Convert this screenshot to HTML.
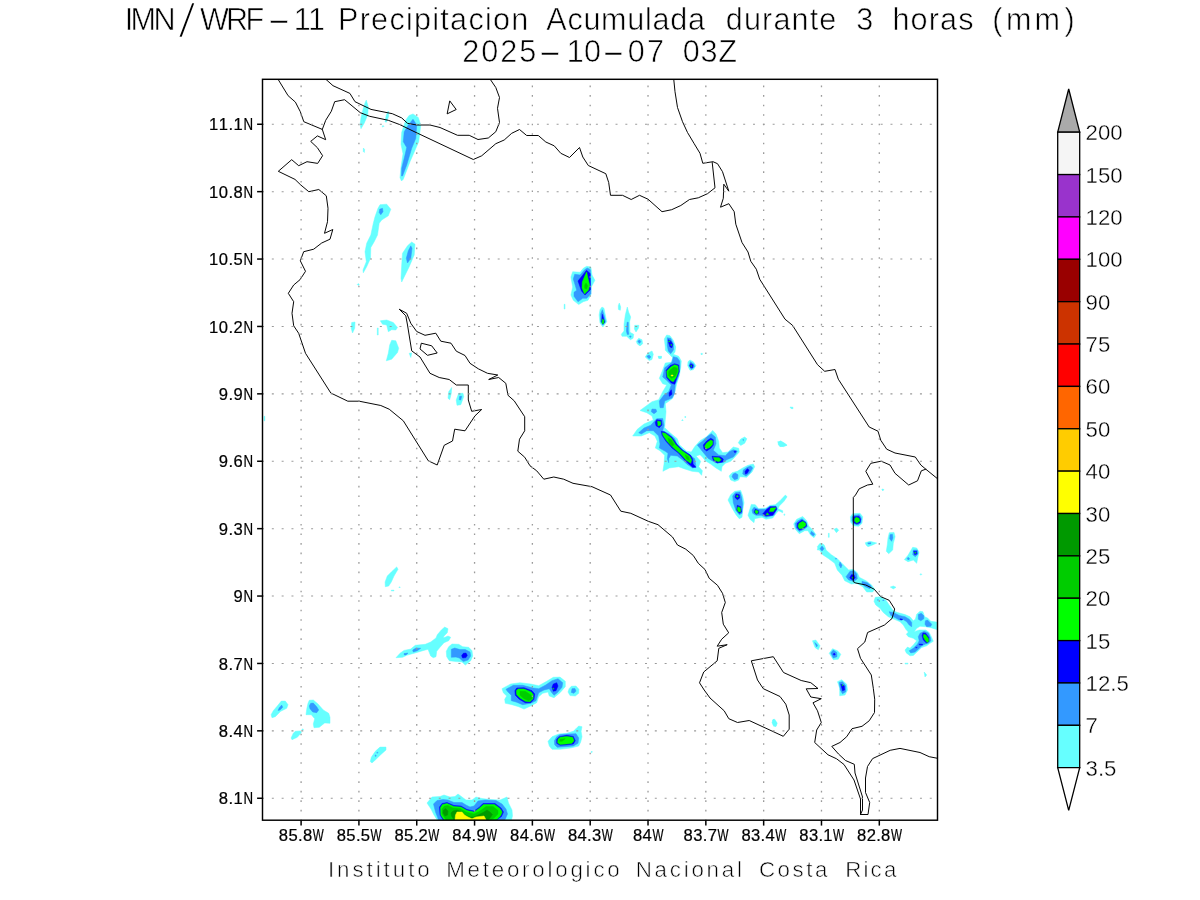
<!DOCTYPE html>
<html lang="es"><head><meta charset="utf-8">
<title>IMN/WRF-11 Precipitacion Acumulada durante 3 horas (mm)</title>
<style>
html,body{margin:0;padding:0;background:#fff;}
body{width:1200px;height:900px;overflow:hidden;}
svg{display:block;will-change:transform;}
text{font-family:"Liberation Sans",sans-serif;fill:#000;}
.ttl{font-size:30.6px;stroke:#fff;stroke-width:0.6px;}
.ft{font-size:22.3px;fill:#000;stroke:#fff;stroke-width:0.6px;}
.ax{font-size:16.6px;stroke:#000;stroke-width:0.22px;}
.cb{font-size:22.2px;stroke:#fff;stroke-width:0.35px;}
.coast{fill:none;stroke:#000;stroke-width:0.98;stroke-linejoin:round;stroke-linecap:round;}
.grid{fill:none;stroke:#9a9a9a;stroke-width:1.3;}
.frame{fill:none;stroke:#000;stroke-width:1.45;stroke-linecap:square;}
.tick{stroke:#000;stroke-width:1.5;}
</style></head><body>
<svg width="1200" height="900" viewBox="0 0 1200 900" role="img" aria-label="IMN/WRF-11 Precipitacion Acumulada durante 3 horas (mm) 2025-10-07 03Z">
<rect x="0" y="0" width="1200" height="900" fill="#ffffff"/>
<text class="ttl" y="30"><tspan x="124.7 130.5 153.4">IMN</tspan><tspan x="177.6" dy="7.6" font-size="50" stroke-width="2.3" textLength="18.8" lengthAdjust="spacingAndGlyphs">/</tspan><tspan dy="-7.6" x="199.9 226.1 245.5">WRF</tspan><tspan x="266.8" textLength="24.5" lengthAdjust="spacingAndGlyphs">-</tspan><tspan x="293.7 308.0">11</tspan> <tspan x="338.0 359.7 371.1 389.4 405.9 414.0 432.3 440.3 450.1 468.4 484.9 493.0 511.2">Precipitacion</tspan> <tspan x="546.2 567.4 583.4 601.1 627.3 645.0 652.5 670.2 688.0">Acumulada</tspan> <tspan x="725.7 743.9 762.0 773.4 791.5 809.7 819.3">durante</tspan> <tspan x="856.3">3</tspan> <tspan x="892.4 910.6 928.8 940.1 958.3">horas</tspan> <tspan x="992.3">(</tspan><tspan x="1006.0">m</tspan><tspan x="1034.6">m</tspan><tspan x="1064.5">)</tspan></text>
<text class="ttl" y="62"><tspan x="462.3 481.3 500.3 519.2">2025</tspan><tspan x="537.8" textLength="24.5" lengthAdjust="spacingAndGlyphs">-</tspan><tspan x="566.7 584.1">10</tspan><tspan x="601.4" textLength="23.8" lengthAdjust="spacingAndGlyphs">-</tspan><tspan x="627.8 647.0">07</tspan> <tspan x="682.8 700.5 718.3">03Z</tspan></text>
<defs><clipPath id="mapclip"><rect x="262.5" y="79.3" width="675.0" height="740.9"/></clipPath></defs>
<g clip-path="url(#mapclip)">
<path fill="#66ffff" stroke="#66ffff" stroke-width="0.5" stroke-linejoin="round" d="M366.3 100.1 L368.3 107.0 L367.7 115.0 L364.3 123.0 L361.0 128.7 L360.1 124.3 L361.0 117.7 L363.3 108.3 L365.0 103.0Z M388.3 111.0 L388.7 116.3 L386.3 122.3 L385.0 121.7 L386.3 115.0Z M382.1 126.3 L383.0 125.4 L383.9 126.3 L383.0 127.2Z M363.4 148.0 L364.6 149.5 L364.3 152.5 L363.3 151.5Z M413.0 113.9 L418.3 117.5 L420.8 125.0 L418.7 141.7 L410.0 161.7 L403.3 179.2 L401.5 181.0 L400.0 177.7 L401.0 167.0 L403.0 153.7 L401.0 144.3 L401.7 132.3 L405.7 120.3 L409.0 115.5Z M380.0 204.7 L386.7 204.2 L390.8 209.2 L388.3 215.8 L381.7 220.0 L379.2 223.3 L377.5 235.0 L374.2 241.7 L370.8 247.5 L370.5 258.3 L366.7 266.7 L363.3 272.8 L363.0 270.0 L366.3 261.7 L365.0 251.7 L366.7 243.3 L370.8 235.0 L373.3 223.3 L375.0 216.7 L378.0 208.3Z M411.7 242.0 L415.0 244.2 L414.2 255.0 L409.2 266.7 L401.7 282.0 L401.0 278.3 L401.7 265.0 L402.5 253.3 L407.5 245.8Z M357.3 284.5 L358.3 283.5 L359.3 284.5 L358.3 285.5Z M351.7 322.5 L355.0 322.0 L354.7 328.3 L352.5 333.0 L351.2 328.3Z M380.3 320.8 L386.7 320.0 L393.3 322.5 L397.5 327.5 L395.8 330.0 L391.7 329.7 L388.3 331.7 L386.7 325.0 L382.5 324.2Z M377.3 328.0 L378.2 328.0 L378.2 335.0 L377.3 335.0Z M391.7 340.3 L395.8 340.8 L398.7 348.3 L397.5 352.5 L391.7 359.2 L386.3 360.8 L388.3 353.3 L389.7 345.0Z M409.2 353.3 L411.7 353.0 L410.8 357.5Z M451.7 387.5 L451.3 393.3 L449.7 399.7 L448.0 398.3 L448.7 391.7Z M264.0 416.3 L264.8 416.3 L264.8 420.8 L264.0 420.8Z M458.7 393.3 L463.0 393.3 L463.7 396.7 L460.8 404.7 L457.0 405.3 L456.2 400.0Z M586.7 266.3 L590.9 267.0 L592.0 275.0 L594.9 280.3 L591.3 287.0 L590.9 295.0 L588.0 300.3 L583.3 301.7 L578.7 304.6 L573.3 300.3 L570.9 295.0 L572.7 287.0 L570.9 277.0 L572.7 271.7 L580.0 272.3 L583.3 268.3Z M564.2 304.3 L565.0 304.3 L565.0 309.0 L564.2 309.0Z M602.0 307.0 L604.0 308.3 L605.3 315.0 L606.7 321.7 L602.9 327.0 L600.0 323.0 L599.1 315.0 L600.0 309.7Z M619.3 303.0 L620.7 307.0 L620.3 310.3 L618.4 309.4 L618.3 305.7Z M627.3 307.0 L628.7 312.3 L630.7 317.0 L629.6 321.7 L630.0 332.3 L633.7 334.3 L633.1 338.3 L630.4 339.7 L626.7 336.3 L622.0 336.3 L621.3 334.3 L624.0 331.0 L624.0 324.3 L625.3 315.0Z M634.7 325.3 L638.9 325.3 L638.4 328.3 L636.0 332.0 L634.4 329.0Z M638.7 338.3 L642.0 339.7 L642.7 343.7 L640.0 345.9 L637.3 344.0 L636.3 341.4Z M652.0 351.0 L653.3 354.3 L652.0 359.5 L649.3 360.6 L645.2 357.0 L648.0 353.0Z M658.0 356.3 L661.6 356.3 L660.0 359.0Z M700.7 353.9 L701.7 352.9 L702.7 353.9 L701.7 354.9Z M690.0 360.0 L693.3 361.7 L696.0 365.7 L693.3 369.7 L690.0 370.3 L687.7 365.7 L688.0 361.7Z M666.7 335.0 L670.0 335.7 L673.3 340.3 L675.7 347.0 L675.0 352.0 L673.3 354.3 L678.7 356.3 L681.3 361.0 L680.7 367.7 L679.3 375.7 L676.7 383.7 L674.7 393.0 L672.7 398.3 L665.3 403.7 L666.0 411.7 L665.3 419.7 L664.7 427.7 L670.7 433.3 L677.3 438.7 L679.3 444.7 L686.7 451.3 L691.3 452.0 L694.7 446.7 L700.0 440.7 L706.7 436.7 L712.7 430.4 L716.0 434.0 L718.7 441.3 L719.3 448.0 L722.7 452.7 L728.0 452.0 L733.3 447.0 L738.7 448.3 L739.3 452.0 L734.7 457.3 L730.7 461.3 L725.3 463.3 L722.0 466.7 L721.3 471.3 L716.0 468.0 L710.7 464.0 L705.3 460.7 L702.7 457.3 L700.0 454.7 L696.0 456.0 L700.7 461.3 L698.7 466.7 L702.4 470.7 L701.6 475.3 L698.7 472.0 L692.0 471.3 L684.0 468.7 L678.7 466.7 L669.3 468.0 L662.9 471.3 L664.0 464.0 L664.7 455.3 L660.0 450.7 L655.3 448.0 L657.3 441.3 L654.9 436.0 L649.3 432.7 L641.3 436.0 L632.7 436.0 L637.3 429.3 L644.0 424.0 L653.3 420.0 L652.0 416.0 L646.7 412.7 L640.0 410.5 L652.0 401.7 L658.7 399.7 L662.7 391.7 L666.7 385.0 L662.7 383.7 L659.3 378.3 L662.0 371.7 L665.3 363.0 L671.3 362.3 L672.7 357.7 L670.0 355.0 L665.3 350.3 L665.3 347.0 L664.3 339.0Z M658.5 356.5 L661.5 356.5 L661.5 358.3 L658.5 358.3Z M744.7 437.0 L746.9 438.8 L744.7 443.2 L740.7 445.5 L738.3 442.8 L740.7 439.0Z M684.5 417.0 L685.3 416.2 L686.1 417.0 L685.3 417.8Z M681.7 420.3 L682.4 419.6 L683.1 420.3 L682.4 421.0Z M777.7 441.7 L781.3 441.3 L784.7 443.3 L787.1 445.3 L783.3 446.7 L779.3 445.7Z M753.3 464.0 L754.7 466.7 L752.0 472.0 L746.7 477.3 L740.0 476.7 L738.7 480.0 L734.7 481.6 L730.7 480.0 L729.1 476.0 L732.0 472.7 L737.3 471.3 L742.7 468.0 L748.0 465.3Z M734.7 491.3 L740.7 490.4 L742.7 496.0 L744.0 502.7 L742.7 510.7 L742.0 517.3 L739.3 518.7 L736.0 514.7 L732.0 508.0 L728.0 500.0 L730.7 494.7Z M785.3 495.1 L787.1 496.7 L784.0 501.3 L779.3 506.0 L778.0 508.7 L782.7 510.7 L782.7 512.7 L778.7 510.7 L776.7 512.7 L772.7 518.0 L766.0 519.3 L762.0 517.3 L754.7 518.7 L754.0 522.7 L750.0 519.3 L748.0 515.3 L750.0 508.7 L751.3 504.4 L755.3 504.7 L758.7 508.7 L766.0 508.0 L770.0 505.3 L775.3 504.7 L780.0 500.7Z M783.7 514.7 L784.4 514.0 L785.1 514.7 L784.4 515.4Z M802.7 516.4 L806.7 520.7 L808.7 526.0 L812.7 530.0 L816.0 534.7 L814.0 537.7 L810.7 535.3 L808.0 530.7 L804.7 530.7 L799.3 533.7 L795.3 529.3 L793.7 524.0 L796.7 519.3Z M852.7 513.7 L860.0 513.3 L862.7 516.7 L862.0 523.3 L858.7 526.3 L853.3 525.7 L850.7 522.0 L850.4 516.7Z M834.0 529.3 L836.7 528.0 L838.7 530.3 L836.4 532.7Z M828.4 533.3 L829.2 533.3 L829.2 537.3 L828.4 537.3Z M790.0 407.0 L793.0 407.3 L793.0 408.7 L791.0 408.5Z M780.0 440.8 L786.7 445.0 L780.0 446.7 L778.0 444.0Z M881.8 489.8 L882.8 488.8 L883.8 489.8 L882.8 490.8Z M882.4 489.7 L883.0 489.1 L883.6 489.7 L883.0 490.3Z M817.3 546.7 L820.0 543.3 L824.0 544.7 L826.0 550.0 L831.3 554.7 L837.3 558.7 L843.3 564.7 L848.7 570.0 L853.3 569.3 L857.3 572.7 L859.3 577.3 L866.0 580.7 L871.3 584.7 L874.7 589.3 L872.7 592.0 L866.7 592.0 L862.7 586.7 L856.7 583.3 L851.3 584.0 L844.7 580.7 L842.0 575.3 L837.3 570.0 L834.7 563.3 L828.7 558.7 L822.7 554.7 L820.0 550.7Z M875.3 597.3 L880.7 596.7 L886.0 600.3 L889.2 605.0 L893.3 610.8 L897.5 612.5 L905.0 614.6 L910.0 616.7 L913.3 620.8 L915.4 619.2 L916.7 614.2 L920.0 611.3 L922.9 611.7 L924.6 616.7 L927.5 617.9 L930.8 621.3 L936.7 622.1 L936.7 629.6 L931.7 627.9 L925.8 626.7 L920.0 626.3 L916.7 628.3 L914.2 631.7 L919.2 630.0 L925.8 630.0 L929.2 632.5 L931.3 636.7 L933.3 641.3 L930.0 643.3 L926.7 645.8 L921.7 647.5 L918.3 650.8 L913.3 655.4 L910.0 655.8 L906.3 652.9 L905.0 650.0 L907.5 647.1 L910.0 648.3 L913.3 645.0 L916.7 640.8 L913.3 638.3 L908.3 636.7 L906.3 634.2 L908.3 632.1 L905.8 629.2 L903.3 625.0 L900.0 621.7 L895.0 619.6 L888.3 616.7 L883.3 612.5 L880.0 608.3 L875.8 605.0 L874.0 601.3Z M865.3 542.7 L870.0 541.3 L876.7 543.1 L872.7 544.9 L868.0 546.7 L866.0 544.9Z M889.3 532.7 L894.0 532.4 L895.1 536.7 L893.3 543.3 L892.7 550.0 L888.7 553.7 L886.3 551.3 L887.3 544.7 L888.0 538.0Z M912.7 547.3 L916.7 548.0 L919.1 552.0 L917.7 558.0 L916.7 563.3 L913.3 560.0 L908.0 561.7 L904.4 559.6 L908.0 555.3 L910.7 550.7Z M920.1 574.4 L920.9 573.6 L921.7 574.4 L920.9 575.2Z M890.3 587.1 L893.3 586.0 L896.0 587.3 L893.3 588.9Z M822.0 543.3 L824.7 546.7 L825.7 550.0 L817.3 550.0 L818.0 546.7Z M812.5 640.8 L815.8 640.0 L820.0 645.8 L818.3 649.7 L815.0 647.5Z M829.2 653.3 L832.5 648.7 L837.5 650.8 L840.8 654.2 L838.3 659.2 L833.3 659.7Z M837.5 681.7 L841.7 679.7 L846.7 684.2 L847.5 690.0 L845.0 695.0 L839.7 695.8 L839.7 688.3Z M772.5 720.0 L774.7 719.2 L777.2 723.3 L775.8 726.7 L773.3 725.0Z M924.2 672.0 L926.7 675.0 L925.0 677.0Z M905.0 663.2 L908.0 663.2 L908.0 664.0 L905.0 664.0Z M396.7 566.9 L398.0 569.3 L394.0 576.0 L391.3 582.0 L388.7 586.0 L385.3 586.7 L385.1 582.0 L387.3 576.0 L391.3 572.0Z M391.3 590.2 L394.0 590.2 L394.0 590.9 L391.3 590.9Z M399.0 587.3 L399.6 586.7 L400.2 587.3 L399.6 587.9Z M444.7 627.1 L448.0 628.7 L447.3 632.7 L444.0 636.0 L443.3 638.0 L448.0 636.0 L450.7 637.3 L448.7 640.7 L444.0 642.7 L440.0 647.3 L436.7 651.3 L436.0 656.7 L433.3 657.7 L430.7 656.0 L428.0 649.3 L422.7 650.7 L416.0 652.7 L406.7 655.3 L402.7 657.3 L396.0 657.7 L400.0 653.3 L404.0 650.4 L410.7 649.1 L415.3 645.3 L425.3 644.3 L430.7 642.0 L436.0 638.0 L437.3 634.7 L441.3 630.0Z M452.0 644.0 L458.7 644.3 L462.7 646.7 L468.7 647.3 L472.0 650.7 L472.7 656.0 L470.7 660.7 L465.3 665.1 L462.0 662.0 L456.0 661.6 L449.3 660.7 L446.7 656.7 L446.3 651.3 L448.7 646.7Z M502.0 688.7 L510.7 684.0 L520.0 682.7 L530.7 684.0 L538.7 685.7 L546.7 681.3 L553.3 677.3 L560.0 677.1 L565.3 681.3 L565.3 686.7 L560.0 692.7 L554.0 697.7 L549.3 696.0 L548.0 692.0 L542.7 693.3 L538.7 696.7 L536.7 702.7 L530.7 706.0 L524.0 709.1 L518.7 706.7 L512.0 704.7 L505.3 703.3 L504.7 699.3 L506.7 696.0 L503.3 692.7Z M571.3 686.3 L576.0 686.0 L578.9 689.3 L578.7 693.3 L575.3 696.0 L570.0 695.6 L568.0 692.0 L569.1 688.7Z M578.7 726.0 L582.0 726.7 L581.1 731.3 L582.0 736.7 L580.7 742.0 L578.7 746.0 L570.7 748.0 L560.0 749.3 L552.0 749.3 L549.3 746.0 L548.0 741.3 L552.0 736.7 L558.7 734.0 L566.7 733.3 L573.3 731.3 L576.0 728.7Z M590.9 752.0 L591.7 751.2 L592.5 752.0 L591.7 752.8Z M427.0 803.0 L432.0 797.0 L440.0 796.5 L444.0 795.0 L450.0 797.0 L455.0 796.5 L458.0 794.0 L462.0 797.0 L466.0 800.0 L472.0 800.0 L476.0 797.0 L482.0 798.5 L490.0 799.5 L500.0 800.0 L507.0 797.0 L508.5 803.0 L512.0 810.0 L512.5 816.0 L511.5 819.7 L437.0 819.7 L434.0 815.0 L431.0 809.0Z M281.3 701.1 L285.3 701.1 L288.0 704.7 L286.7 708.3 L280.7 711.3 L275.3 716.7 L272.0 717.7 L271.1 714.7 L273.3 710.7 L277.3 706.0Z M309.3 700.3 L313.3 700.0 L318.0 704.0 L323.3 710.0 L328.7 713.3 L330.0 717.3 L330.0 723.3 L324.7 722.9 L319.3 727.3 L314.0 727.7 L313.3 724.0 L314.7 718.7 L311.3 714.7 L306.0 714.7 L306.7 709.3 L308.0 703.3Z M295.3 731.3 L300.7 730.9 L301.3 732.7 L297.3 737.3 L292.0 739.7 L291.1 738.0 L293.3 733.3Z M301.9 729.6 L302.7 728.8 L303.5 729.6 L302.7 730.4Z M380.0 747.1 L386.0 747.1 L386.0 750.0 L380.7 754.7 L375.3 760.0 L372.0 762.9 L370.3 761.6 L371.3 757.3 L375.3 751.3Z M773.3 719.2 L776.7 722.5 L776.3 725.8 L773.7 726.3 L772.0 722.5Z"/>
<path fill="#3399ff" stroke="#3399ff" stroke-width="0.5" stroke-linejoin="round" d="M413.0 119.2 L416.7 125.0 L415.8 138.3 L411.7 148.3 L406.7 165.0 L402.5 176.0 L401.5 176.0 L401.7 168.3 L405.0 155.0 L406.7 147.5 L403.3 141.7 L404.2 131.7 L408.3 125.0Z M379.7 209.2 L382.5 208.3 L383.0 211.7 L380.8 214.7 L379.2 212.5Z M410.8 245.8 L412.0 248.3 L410.8 258.3 L407.5 263.0 L406.3 258.3 L408.3 250.8Z M459.7 396.3 L461.7 396.3 L460.8 400.0 L459.2 399.7Z M587.3 267.9 L590.4 269.7 L590.9 293.7 L586.7 298.3 L582.7 298.3 L580.0 300.3 L578.0 301.7 L574.0 296.3 L574.0 292.3 L576.7 290.3 L573.3 279.0 L574.7 274.3 L580.0 275.0 L584.7 269.7Z M602.4 309.7 L604.0 315.0 L605.6 321.7 L602.9 325.0 L600.7 321.7 L600.7 313.7Z M627.1 322.3 L628.3 322.3 L628.3 331.0 L628.9 334.3 L627.3 334.6 L626.4 331.0Z M629.4 336.6 L630.3 335.7 L631.2 336.6 L630.3 337.5Z M637.7 341.0 L639.7 340.0 L640.9 341.7 L639.3 343.4Z M646.7 356.3 L649.1 355.0 L650.9 357.0 L649.1 358.7Z M690.4 361.7 L694.0 364.3 L694.4 367.0 L691.3 369.4 L689.1 365.7Z M667.3 337.7 L670.7 338.3 L673.3 343.7 L673.6 349.7 L670.7 353.7 L668.3 351.0 L667.3 345.7Z M673.3 356.7 L677.3 357.7 L679.7 361.0 L680.0 367.0 L678.7 375.7 L675.3 384.3 L674.4 393.7 L672.0 398.0 L664.7 401.0 L663.3 407.7 L660.0 407.7 L659.3 401.0 L664.0 395.0 L668.7 391.7 L671.3 385.0 L666.0 379.7 L662.7 377.0 L664.7 367.7 L672.0 362.3Z M652.0 409.0 L656.0 409.3 L656.7 411.7 L654.0 413.7 L651.3 411.7Z M656.7 418.7 L662.7 418.4 L664.0 425.3 L662.7 430.7 L669.3 434.0 L674.7 438.7 L677.3 445.3 L682.7 450.7 L689.3 454.7 L694.7 458.7 L696.0 466.7 L692.7 468.0 L686.7 464.0 L682.7 460.0 L677.3 456.0 L670.7 455.3 L668.7 458.7 L668.7 462.7 L667.3 458.7 L668.0 453.3 L665.3 451.3 L659.3 448.0 L660.0 444.0 L658.7 436.0 L653.3 430.7 L646.7 430.7 L641.3 434.0 L638.7 432.7 L644.0 428.0 L650.7 425.3Z M711.3 433.7 L715.3 437.0 L716.0 443.7 L713.3 450.3 L718.7 455.0 L725.3 455.7 L729.3 451.7 L733.3 449.7 L737.3 451.0 L736.0 453.7 L733.3 457.0 L726.7 459.7 L724.0 462.3 L716.0 463.0 L708.0 458.3 L702.7 451.7 L697.3 445.0 L702.7 441.0 L706.7 437.0Z M742.7 440.0 L743.3 439.4 L743.9 440.0 L743.3 440.6Z M735.3 473.1 L738.0 474.7 L737.6 478.7 L734.4 479.7 L732.0 476.7 L733.1 474.0Z M750.7 466.0 L752.7 468.0 L750.0 472.7 L746.0 476.0 L742.7 474.0 L743.3 470.0 L747.3 467.3Z M735.3 492.7 L740.0 492.0 L741.6 497.3 L742.7 504.0 L742.0 513.3 L739.3 514.7 L736.0 510.7 L733.3 502.7 L732.7 496.0Z M754.0 507.3 L758.7 509.3 L765.3 509.3 L770.0 506.3 L776.0 506.0 L777.3 508.7 L774.0 515.3 L766.0 517.3 L761.3 515.3 L756.0 515.3 L752.7 513.3 L752.0 510.0Z M802.0 518.7 L806.0 522.0 L807.3 526.7 L804.0 529.3 L799.3 531.6 L796.0 528.0 L795.3 523.3 L798.0 520.7Z M811.3 531.3 L814.7 534.0 L813.3 536.0 L810.4 533.7Z M853.3 515.3 L859.3 514.7 L861.3 518.0 L860.9 522.7 L858.0 524.9 L854.0 524.0 L852.0 520.7 L852.0 517.3Z M822.0 546.0 L824.0 548.7 L822.0 551.1 L820.0 548.7Z M840.0 562.0 L842.0 565.3 L840.9 568.0 L839.1 564.9Z M835.4 558.7 L836.0 558.1 L836.6 558.7 L836.0 559.3Z M850.0 571.3 L854.0 570.7 L856.7 574.0 L857.3 578.7 L854.0 581.3 L848.7 580.0 L846.0 576.7Z M862.0 581.3 L867.3 582.7 L871.3 586.0 L870.0 588.7 L865.3 586.7 L862.0 584.0Z M889.2 611.7 L893.3 612.5 L899.2 615.4 L905.0 616.7 L909.2 619.2 L911.7 622.5 L911.7 626.7 L909.2 625.0 L906.7 621.7 L903.3 619.6 L899.2 620.0 L895.0 617.5 L890.8 615.4Z M877.4 600.0 L878.0 599.4 L878.6 600.0 L878.0 600.6Z M882.7 600.4 L883.3 599.8 L883.9 600.4 L883.3 601.0Z M918.3 614.6 L921.3 613.3 L923.8 615.8 L923.8 618.8 L920.8 620.8 L918.3 619.2Z M925.4 620.8 L927.5 620.0 L931.7 624.2 L930.8 626.3 L926.7 626.7 L925.0 624.2Z M920.0 633.3 L924.2 631.3 L928.3 632.9 L930.4 637.5 L930.8 640.8 L928.3 643.3 L925.0 644.2 L921.7 645.8 L918.3 649.2 L915.0 652.1 L910.8 652.9 L909.2 650.8 L913.3 648.3 L917.5 644.2 L919.2 640.8 L918.3 636.7Z M867.8 542.9 L870.9 542.7 L870.6 543.9 L868.2 544.0Z M890.0 534.7 L892.4 534.3 L892.9 538.0 L891.6 541.3 L889.7 538.7Z M913.3 550.0 L917.3 550.0 L918.0 554.0 L915.3 556.7 L912.7 554.7Z M908.0 557.3 L909.7 558.7 L908.4 560.0 L907.1 558.7Z M814.7 642.5 L817.5 645.0 L816.7 647.0Z M830.8 653.0 L833.3 650.0 L836.7 652.5 L837.0 656.7 L833.3 658.0Z M839.2 682.5 L842.5 681.7 L845.8 685.8 L845.8 691.7 L842.5 693.7 L840.3 690.0Z M412.7 650.0 L416.0 648.0 L420.7 648.3 L417.3 650.7 L413.3 652.0Z M404.0 653.6 L408.0 653.1 L406.0 654.9 L404.3 654.9Z M451.3 649.3 L454.7 648.0 L460.0 649.6 L465.3 649.6 L470.0 652.0 L470.7 656.0 L468.0 660.0 L463.3 661.6 L459.3 658.0 L456.0 657.1 L451.3 657.3Z M506.0 689.3 L513.3 685.3 L522.7 685.3 L533.3 688.0 L538.7 688.7 L545.3 685.3 L552.0 680.7 L558.0 678.7 L562.7 682.7 L562.0 687.3 L557.3 692.7 L554.0 695.3 L551.3 692.0 L549.3 688.7 L544.0 690.0 L538.7 692.7 L536.0 700.7 L530.7 703.3 L522.7 704.7 L516.0 702.0 L511.3 700.7 L511.3 695.3 L507.3 691.3Z M572.0 688.7 L574.9 688.4 L576.0 691.1 L574.0 693.3 L571.3 692.4Z M560.0 734.7 L568.0 734.0 L576.0 733.7 L578.7 738.0 L578.0 743.3 L573.3 746.0 L565.3 746.7 L557.3 747.3 L554.7 744.7 L554.4 740.7 L556.7 736.7Z M433.5 804.0 L437.0 800.5 L443.0 799.5 L448.0 800.0 L454.0 802.5 L462.0 802.5 L466.0 805.0 L470.0 807.0 L474.0 806.0 L478.0 801.0 L485.0 800.0 L496.0 800.5 L502.0 804.0 L506.0 809.0 L507.5 814.0 L505.0 819.7 L438.5 819.7 L435.5 812.0Z M281.7 705.1 L282.7 707.3 L280.0 710.0 L278.0 710.4 L279.3 707.7Z M310.7 703.3 L313.3 703.1 L316.7 706.7 L318.7 710.0 L316.7 712.7 L312.7 712.0 L310.0 708.7 L309.3 706.0Z M376.7 752.7 L377.3 752.1 L377.9 752.7 L377.3 753.3Z M374.9 755.7 L375.6 755.0 L376.3 755.7 L375.6 756.4Z"/>
<path fill="#0000ff" stroke="#0000ff" stroke-width="0.5" stroke-linejoin="round" d="M586.5 270.3 L590.2 273.5 L590.5 289.7 L585.0 295.0 L581.5 291.0 L578.0 281.0 L582.0 276.0Z M602.4 314.3 L603.7 319.0 L604.7 322.3 L602.9 324.3 L601.6 321.7Z M690.7 363.7 L693.1 365.0 L692.7 367.7 L690.7 367.7 L689.7 365.7Z M668.3 339.7 L670.9 341.0 L672.7 344.3 L672.0 347.7 L670.0 347.0 L668.7 343.0Z M674.7 363.7 L678.7 365.0 L679.3 371.7 L676.7 378.3 L674.7 384.3 L671.3 383.0 L666.7 377.7 L666.0 370.3 L670.0 365.7Z M671.3 389.7 L672.0 394.3 L669.3 396.3 L669.1 393.0Z M656.7 419.7 L661.3 420.3 L662.0 425.0 L659.3 427.7 L656.0 425.7 L655.3 422.3Z M661.3 431.3 L664.7 432.0 L672.0 437.3 L676.7 444.0 L682.7 450.0 L690.7 455.3 L692.7 459.3 L693.1 464.0 L696.0 467.3 L692.7 467.3 L685.3 460.7 L678.7 453.3 L672.0 448.0 L666.0 441.3 L662.0 435.3Z M710.7 438.3 L713.3 439.7 L713.3 445.0 L710.7 448.3 L706.7 451.0 L704.0 449.0 L703.3 445.0 L706.7 441.0Z M712.0 456.3 L720.0 456.7 L723.3 459.0 L722.7 462.0 L717.3 463.0 L713.3 460.3Z M734.0 451.7 L735.0 450.7 L736.0 451.7 L735.0 452.7Z M747.3 468.7 L749.1 470.0 L747.3 473.3 L745.3 474.0 L745.1 471.3Z M736.0 494.0 L739.3 494.7 L739.7 498.0 L737.3 499.7 L734.9 497.3Z M737.3 505.3 L740.7 506.7 L741.6 512.0 L739.3 513.3 L736.7 510.0Z M755.3 509.3 L758.7 510.7 L758.7 513.3 L756.0 514.3 L754.0 512.0Z M770.0 506.7 L776.0 506.7 L776.7 509.3 L772.7 515.3 L766.0 516.0 L762.7 514.0 L766.0 510.0Z M802.0 520.0 L806.0 522.7 L806.7 526.0 L802.7 528.9 L799.3 530.0 L797.1 527.3 L797.3 523.3Z M854.0 516.7 L859.1 516.4 L860.7 519.3 L860.0 522.7 L856.7 524.0 L854.0 522.7 L853.3 519.3Z M851.3 574.7 L854.0 574.7 L855.3 578.0 L852.7 580.0 L849.7 578.0Z M900.0 618.8 L902.5 619.2 L902.1 620.0 L900.4 619.8Z M922.9 632.9 L925.8 633.3 L928.8 637.5 L928.8 641.7 L926.3 642.9 L923.3 640.0 L922.1 635.8Z M919.2 644.0 L922.5 644.3 L922.5 645.0 L919.2 644.8Z M915.7 647.5 L916.3 646.9 L916.9 647.5 L916.3 648.1Z M913.7 551.3 L916.7 551.3 L916.9 554.0 L914.7 554.7Z M833.1 654.2 L834.2 653.1 L835.3 654.2 L834.2 655.3Z M840.8 684.2 L844.2 685.8 L844.7 690.0 L842.5 690.8Z M463.3 653.3 L466.0 653.1 L467.3 655.3 L466.0 657.6 L462.7 658.0 L461.6 655.7Z M516.7 688.0 L524.0 687.7 L532.0 690.7 L534.7 694.0 L534.0 699.3 L530.7 702.7 L525.3 702.7 L519.3 699.3 L515.3 695.3 L514.9 690.7Z M553.3 684.0 L556.7 682.7 L558.0 686.0 L556.0 690.7 L553.3 691.3 L552.0 687.3Z M559.3 736.7 L566.7 735.3 L573.3 736.4 L575.3 740.7 L573.3 744.0 L566.7 744.9 L560.0 745.3 L556.7 743.3 L556.7 739.3Z M439.5 807.0 L442.0 803.5 L447.0 802.5 L454.0 805.5 L461.0 806.0 L467.0 809.5 L474.0 811.0 L479.0 807.5 L483.0 803.5 L495.0 803.5 L501.0 808.0 L503.5 812.0 L501.5 816.5 L497.0 819.7 L443.0 819.7 L440.0 815.0Z"/>
<path fill="#00ff00" stroke="#00ff00" stroke-width="0.5" stroke-linejoin="round" d="M586.6 272.0 L587.8 277.5 L589.6 285.0 L588.5 290.0 L584.5 294.0 L582.0 288.0 L582.3 282.0 L584.8 276.0Z M602.4 319.0 L604.0 320.3 L603.7 323.7 L602.0 323.3Z M690.6 366.0 L691.3 365.3 L692.0 366.0 L691.3 366.7Z M668.6 341.4 L669.3 340.7 L670.0 341.4 L669.3 342.1Z M670.6 345.0 L671.3 344.3 L672.0 345.0 L671.3 345.7Z M674.7 364.7 L678.0 366.0 L678.4 371.7 L676.0 377.7 L673.3 381.7 L671.3 381.0 L667.3 377.0 L666.7 371.0 L670.7 367.0Z M657.6 421.0 L660.7 421.7 L660.7 425.0 L658.0 426.0Z M662.4 432.7 L665.3 433.3 L671.3 438.0 L675.7 444.7 L682.0 450.7 L689.6 456.0 L691.7 460.0 L690.7 463.3 L686.0 460.0 L679.3 452.7 L672.7 447.3 L666.7 440.7 L662.9 435.3Z M710.7 440.0 L712.7 441.0 L712.4 444.7 L709.3 447.7 L706.0 449.0 L704.7 446.3 L706.7 443.0Z M713.3 457.4 L719.3 457.7 L721.3 460.0 L718.7 461.7 L714.7 460.3Z M736.2 496.3 L737.3 495.2 L738.4 496.3 L737.3 497.4Z M738.0 506.7 L740.4 508.0 L740.7 511.7 L738.7 512.0 L737.1 509.3Z M756.0 510.0 L758.3 511.3 L757.7 513.3 L756.0 513.7 L754.9 511.6Z M770.7 508.0 L776.0 507.7 L773.3 511.6 L769.3 511.6Z M767.3 512.7 L768.9 514.7 L766.0 514.9Z M802.7 521.3 L805.7 523.3 L805.7 525.7 L802.0 528.4 L799.3 528.7 L798.0 526.3 L799.1 523.3Z M856.0 517.3 L859.1 518.3 L859.6 521.3 L856.7 523.1 L854.7 521.3 L854.7 518.7Z M852.0 577.7 L852.9 576.8 L853.8 577.7 L852.9 578.6Z M923.8 634.2 L925.8 635.0 L928.3 638.3 L928.8 641.3 L927.1 642.5 L925.0 640.0 L923.3 636.7Z M914.5 552.7 L915.3 551.9 L916.1 552.7 L915.3 553.5Z M841.9 685.2 L842.5 684.6 L843.1 685.2 L842.5 685.8Z M518.0 688.9 L524.0 688.9 L531.3 692.0 L533.3 694.7 L533.1 698.7 L530.0 701.7 L525.3 701.3 L520.0 698.0 L516.7 694.7 L516.3 690.7Z M552.8 688.7 L553.4 688.1 L554.0 688.7 L553.4 689.3Z M560.0 737.3 L566.7 736.4 L572.7 737.3 L574.0 740.7 L572.0 743.3 L566.7 744.0 L560.0 744.4 L557.6 742.7 L558.0 739.3Z M440.5 807.5 L442.5 804.5 L447.0 803.5 L454.0 806.5 L461.0 807.0 L467.0 810.5 L474.0 812.0 L479.0 808.5 L483.5 804.5 L494.5 804.5 L500.0 808.5 L502.2 812.0 L500.5 816.0 L496.5 819.7 L444.0 819.7 L440.8 815.0Z"/>
<path fill="#00cc00" stroke="#00cc00" stroke-width="0.5" stroke-linejoin="round" d="M586.0 283.0 L587.7 285.7 L586.7 289.0 L584.7 288.3 L584.7 285.0Z M674.0 367.0 L677.1 368.3 L677.3 372.3 L674.7 377.0 L671.3 378.3 L668.7 375.7 L668.7 371.7 L671.3 369.0Z M668.0 438.3 L671.3 439.7 L674.0 444.3 L672.7 446.3 L669.3 443.7Z M685.3 455.0 L688.7 457.0 L689.3 460.3 L686.7 459.0Z M520.0 691.3 L525.3 691.3 L531.3 695.3 L532.0 698.7 L528.7 700.7 L524.0 698.7 L520.0 695.3Z M560.0 739.3 L565.3 738.7 L562.0 741.3 L559.7 741.3Z M444.5 806.0 L448.0 805.5 L453.0 808.0 L460.0 808.5 L466.0 812.0 L474.0 814.0 L480.0 811.0 L486.0 806.5 L493.0 806.5 L498.0 810.5 L498.0 814.0 L494.0 818.0 L491.0 819.7 L446.0 819.7 L442.0 814.0 L442.0 809.0Z"/>
<path fill="#009900" stroke="#009900" stroke-width="0.5" stroke-linejoin="round" d="M445.5 808.5 L448.0 811.0 L447.5 815.0 L445.0 816.0 L443.0 813.0 L443.5 810.0Z M453.0 811.0 L457.0 810.0 L461.0 811.5 L465.0 815.0 L470.0 817.0 L474.0 817.0 L479.0 814.5 L484.0 812.0 L487.0 810.0 L490.0 812.0 L492.5 814.5 L490.0 818.0 L488.0 819.7 L454.0 819.7 L451.5 816.0 L451.0 813.0Z"/>
<path fill="#ffff00" stroke="#ffff00" stroke-width="0.5" stroke-linejoin="round" d="M671.2 375.0 L673.0 375.0 L673.0 376.0 L671.2 376.0Z M457.0 812.0 L462.0 812.0 L464.5 815.0 L468.0 817.0 L472.0 818.8 L476.0 817.0 L484.0 816.0 L486.0 819.7 L455.0 819.7 L455.5 815.0Z"/>
<path class="coast" d="M278.3 79.7 L288.1 95.7 L295.4 102.1 L300.3 111.7 L303.8 121.7 L322.3 129.4 L325.7 139.7 L317.4 135.9 L310.7 141.4 L317.4 147.7 L322.6 155.7 L317.7 163.4 L307.0 161.7 L298.7 165.7 L291.7 159.7 L278.3 171.3 L295.0 179.4 L300.8 185.0 L308.8 191.7 L318.8 189.5 L326.3 195.8 L328.0 208.3 L327.5 221.7 L324.5 233.3 L332.8 229.5 L330.0 239.2 L321.7 243.0 L313.7 249.2 L303.7 251.7 L300.3 260.8 L305.5 271.3 L300.0 279.7 L293.7 285.0 L288.3 293.3 L293.7 301.7 L292.0 313.3 L293.7 325.8 L298.7 333.3 L305.5 353.3 L330.8 393.0 L347.8 401.2 L359.2 401.2 L380.8 405.5 L389.2 409.2 L403.3 420.8 L428.3 460.8 L437.2 465.0 L444.2 445.3 L452.5 441.0 L454.7 429.2 L465.0 430.8 L475.0 415.8 L481.7 409.5 L471.7 411.3 L468.3 400.0 L468.3 385.0 L456.3 385.0 L449.2 379.5 L439.2 377.5 L430.0 373.3 L420.0 357.0 L411.7 350.8 L407.5 325.0 L405.8 315.8 L399.2 309.2 L406.7 313.3 L410.8 323.3 L416.7 331.5 L425.0 335.3 L435.8 333.2 L440.8 341.2 L451.0 343.2 L456.3 351.2 L465.0 355.5 L470.0 363.3 L478.3 368.8 L487.5 373.3 L497.8 375.0 L488.7 379.5 L498.7 377.5 L505.8 383.3 L508.0 395.3 L514.2 400.8 L524.7 416.7 L524.7 430.8 L519.5 439.2 L517.8 451.2 L524.7 457.2 L530.0 465.8 L536.7 470.8 L543.8 479.2 L553.8 477.0 L563.7 479.2 L573.0 483.3 L592.0 486.7 L610.5 495.0 L620.8 511.2 L630.8 513.3 L648.3 521.3 L658.0 524.7 L672.5 537.0 L677.5 545.0 L685.8 549.2 L693.3 555.5 L698.3 563.3 L705.0 569.5 L709.2 578.3 L717.5 585.3 L722.5 593.3 L725.3 602.5 L721.7 612.5 L723.3 624.2 L728.7 632.8 L721.7 639.2 L717.2 646.2 L727.2 644.7 L718.8 648.3 L717.2 660.8 L703.7 672.0 L699.5 682.8 L704.2 690.0 L710.0 698.0 L724.2 710.8 L728.8 718.7 L737.5 722.5 L749.2 720.5 L783.3 736.3 L789.2 729.2 L789.2 715.0 L785.8 704.2 L780.0 696.5 L763.3 688.7 L757.5 680.0 L751.3 660.8 L773.3 656.7 L783.5 672.5 L801.2 680.5 L810.8 682.7 L818.0 688.5 L806.2 688.8 L810.8 697.0 L821.3 698.7 L813.0 702.8 L817.5 710.8 L821.3 722.5 L816.7 730.0 L814.7 742.5 L828.0 754.8 L836.6 758.8 L844.0 764.5 L854.0 780.0 L860.5 799.0 L860.5 814.5 L868.0 814.5 L869.7 802.5 L865.5 792.5 L865.5 778.0 L867.5 766.5 L872.6 758.6 L890.2 750.3 L900.0 748.4 L920.0 752.5 L929.2 756.7 L937.5 758.3"/>
<path class="coast" d="M322.3 129.4 L325.7 120.3 L331.3 111.3 L334.7 101.7 L344.6 99.7 L360.3 112.7 L369.7 116.3 L388.3 120.3 L400.0 124.7 L415.0 132.0 L473.3 159.5 L481.7 155.8 L495.8 143.7 L504.2 140.0 L511.7 133.3 L519.5 129.5 L526.7 135.5 L538.3 135.5 L545.8 142.0 L554.2 145.8 L560.8 153.3 L569.5 157.5 L579.5 147.5 L582.8 157.0 L588.3 165.5 L600.0 171.0 L605.8 173.7 L608.7 182.5 L610.5 195.3 L622.5 195.3 L631.2 199.5 L639.5 195.3 L648.0 199.2 L662.0 211.7 L671.7 209.7 L680.8 205.5 L689.5 199.5 L698.3 197.8 L707.5 193.7 L715.0 187.8 L712.2 162.5"/>
<path class="coast" d="M673.8 79.7 L675.0 91.7 L677.5 107.5 L682.5 121.7 L687.5 132.5 L694.2 143.7 L700.0 153.3 L702.8 163.3 L713.0 161.7 L717.5 163.7 L722.5 171.7 L728.8 191.2 L723.8 184.2 L723.3 198.3 L720.5 207.2 L728.8 203.7 L734.2 211.7 L735.8 224.2 L742.0 242.5 L748.0 252.0 L750.8 261.3 L756.3 269.2 L759.7 279.2 L785.0 319.2 L792.5 325.3 L817.5 364.7 L824.7 371.3 L835.0 369.5 L838.3 379.2 L869.2 427.0 L878.0 431.2 L880.8 440.3 L886.7 449.2 L895.0 453.0 L915.3 457.0 L920.8 465.0 L925.8 469.2 L937.5 478.7"/>
<path class="coast" d="M925.8 469.2 L921.3 470.8 L917.5 480.8 L908.7 485.0 L895.0 473.3 L890.0 465.0 L881.2 461.2 L870.8 463.3 L865.8 471.3 L872.8 484.2 L867.5 485.0 L859.2 488.8 L855.5 495.0 L853.3 497.5 L853.3 581.7 L855.8 583.0 L865.8 585.0 L874.2 589.2 L880.8 596.7 L889.2 600.3 L894.7 609.0 L892.0 618.5 L884.5 625.0 L867.6 632.5 L864.8 642.0 L857.5 648.7 L860.5 658.3 L871.3 675.0 L873.3 688.3 L874.7 699.2 L874.5 712.5 L869.2 720.8 L862.0 726.3 L852.0 728.7 L846.7 736.7 L840.0 742.5 L831.8 746.4 L838.5 754.0 L845.5 760.5 L854.3 764.3 L855.0 773.0 L862.5 797.0 L862.5 810.0 L860.5 814.5"/>
<path class="coast" d="M326.3 79.7 L333.0 85.7 L349.9 93.4 L355.0 101.7 L371.0 109.4 L392.3 113.7 L401.7 117.9 L407.5 123.3 L416.7 125.0 L430.0 125.0 L440.0 127.5 L457.5 135.3 L469.2 135.3 L478.0 139.5 L488.3 138.0 L495.8 131.7 L499.5 122.5 L497.5 108.3 L499.5 97.5 L495.8 87.5 L490.5 79.7"/>
<path class="coast" d="M450.0 101.2 L456.2 109.5 L447.5 113.7Z"/>
<path class="coast" d="M421.7 343.3 L431.7 345.8 L437.2 353.0 L427.5 355.3 L420.3 349.2Z"/>
<line class="grid" style="stroke-width:1.05" x1="262.00" y1="124.25" x2="937.50" y2="124.25" stroke-dasharray="2 7.82"/>
<line class="grid" style="stroke-width:1.05" x1="262.00" y1="191.65" x2="937.50" y2="191.65" stroke-dasharray="2 7.82"/>
<line class="grid" style="stroke-width:1.05" x1="262.00" y1="259.05" x2="937.50" y2="259.05" stroke-dasharray="2 7.82"/>
<line class="grid" style="stroke-width:1.05" x1="262.00" y1="326.45" x2="937.50" y2="326.45" stroke-dasharray="2 7.82"/>
<line class="grid" style="stroke-width:1.05" x1="262.00" y1="393.85" x2="937.50" y2="393.85" stroke-dasharray="2 7.82"/>
<line class="grid" style="stroke-width:1.05" x1="262.00" y1="461.25" x2="937.50" y2="461.25" stroke-dasharray="2 7.82"/>
<line class="grid" style="stroke-width:1.05" x1="262.00" y1="528.65" x2="937.50" y2="528.65" stroke-dasharray="2 7.82"/>
<line class="grid" style="stroke-width:1.05" x1="262.00" y1="596.05" x2="937.50" y2="596.05" stroke-dasharray="2 7.82"/>
<line class="grid" style="stroke-width:1.05" x1="262.00" y1="663.45" x2="937.50" y2="663.45" stroke-dasharray="2 7.82"/>
<line class="grid" style="stroke-width:1.05" x1="262.00" y1="730.85" x2="937.50" y2="730.85" stroke-dasharray="2 7.82"/>
<line class="grid" style="stroke-width:1.05" x1="262.00" y1="798.25" x2="937.50" y2="798.25" stroke-dasharray="2 7.82"/>
<line class="grid" x1="301.10" y1="821.00" x2="301.10" y2="79.30" stroke-dasharray="1.6 7.93"/>
<line class="grid" x1="358.92" y1="821.00" x2="358.92" y2="79.30" stroke-dasharray="1.6 7.93"/>
<line class="grid" x1="416.74" y1="821.00" x2="416.74" y2="79.30" stroke-dasharray="1.6 7.93"/>
<line class="grid" x1="474.56" y1="821.00" x2="474.56" y2="79.30" stroke-dasharray="1.6 7.93"/>
<line class="grid" x1="532.38" y1="821.00" x2="532.38" y2="79.30" stroke-dasharray="1.6 7.93"/>
<line class="grid" x1="590.20" y1="821.00" x2="590.20" y2="79.30" stroke-dasharray="1.6 7.93"/>
<line class="grid" x1="648.02" y1="821.00" x2="648.02" y2="79.30" stroke-dasharray="1.6 7.93"/>
<line class="grid" x1="705.84" y1="821.00" x2="705.84" y2="79.30" stroke-dasharray="1.6 7.93"/>
<line class="grid" x1="763.66" y1="821.00" x2="763.66" y2="79.30" stroke-dasharray="1.6 7.93"/>
<line class="grid" x1="821.48" y1="821.00" x2="821.48" y2="79.30" stroke-dasharray="1.6 7.93"/>
<line class="grid" x1="879.30" y1="821.00" x2="879.30" y2="79.30" stroke-dasharray="1.6 7.93"/>
</g>
<rect class="frame" x="262.5" y="79.3" width="675.0" height="740.9"/>
<line class="tick" x1="301.10" y1="820.2" x2="301.10" y2="825.6"/>
<text class="ax" y="840.6"><tspan x="278.8">8</tspan><tspan x="288.5">5</tspan><tspan x="298.0">.</tspan><tspan x="302.9">8</tspan><tspan x="312.7" textLength="11.0" lengthAdjust="spacingAndGlyphs">W</tspan></text>
<line class="tick" x1="358.92" y1="820.2" x2="358.92" y2="825.6"/>
<text class="ax" y="840.6"><tspan x="336.7">8</tspan><tspan x="346.3">5</tspan><tspan x="355.9">.</tspan><tspan x="360.8">5</tspan><tspan x="370.5" textLength="11.0" lengthAdjust="spacingAndGlyphs">W</tspan></text>
<line class="tick" x1="416.74" y1="820.2" x2="416.74" y2="825.6"/>
<text class="ax" y="840.6"><tspan x="394.5">8</tspan><tspan x="404.1">5</tspan><tspan x="413.7">.</tspan><tspan x="418.6">2</tspan><tspan x="428.3" textLength="11.0" lengthAdjust="spacingAndGlyphs">W</tspan></text>
<line class="tick" x1="474.56" y1="820.2" x2="474.56" y2="825.6"/>
<text class="ax" y="840.6"><tspan x="452.3">8</tspan><tspan x="461.9">4</tspan><tspan x="471.5">.</tspan><tspan x="476.4">9</tspan><tspan x="486.1" textLength="11.0" lengthAdjust="spacingAndGlyphs">W</tspan></text>
<line class="tick" x1="532.38" y1="820.2" x2="532.38" y2="825.6"/>
<text class="ax" y="840.6"><tspan x="510.1">8</tspan><tspan x="519.8">4</tspan><tspan x="529.3">.</tspan><tspan x="534.2">6</tspan><tspan x="544.0" textLength="11.0" lengthAdjust="spacingAndGlyphs">W</tspan></text>
<line class="tick" x1="590.20" y1="820.2" x2="590.20" y2="825.6"/>
<text class="ax" y="840.6"><tspan x="567.9">8</tspan><tspan x="577.6">4</tspan><tspan x="587.1">.</tspan><tspan x="592.0">3</tspan><tspan x="601.8" textLength="11.0" lengthAdjust="spacingAndGlyphs">W</tspan></text>
<line class="tick" x1="648.02" y1="820.2" x2="648.02" y2="825.6"/>
<text class="ax" y="840.6"><tspan x="633.0">8</tspan><tspan x="642.6">4</tspan><tspan x="652.4" textLength="11.0" lengthAdjust="spacingAndGlyphs">W</tspan></text>
<line class="tick" x1="705.84" y1="820.2" x2="705.84" y2="825.6"/>
<text class="ax" y="840.6"><tspan x="683.6">8</tspan><tspan x="693.2">3</tspan><tspan x="702.8">.</tspan><tspan x="707.7">7</tspan><tspan x="717.4" textLength="11.0" lengthAdjust="spacingAndGlyphs">W</tspan></text>
<line class="tick" x1="763.66" y1="820.2" x2="763.66" y2="825.6"/>
<text class="ax" y="840.6"><tspan x="741.4">8</tspan><tspan x="751.0">3</tspan><tspan x="760.6">.</tspan><tspan x="765.5">4</tspan><tspan x="775.2" textLength="11.0" lengthAdjust="spacingAndGlyphs">W</tspan></text>
<line class="tick" x1="821.48" y1="820.2" x2="821.48" y2="825.6"/>
<text class="ax" y="840.6"><tspan x="799.2">8</tspan><tspan x="808.9">3</tspan><tspan x="818.4">.</tspan><tspan x="823.3">1</tspan><tspan x="833.1" textLength="11.0" lengthAdjust="spacingAndGlyphs">W</tspan></text>
<line class="tick" x1="879.30" y1="820.2" x2="879.30" y2="825.6"/>
<text class="ax" y="840.6"><tspan x="857.0">8</tspan><tspan x="866.7">2</tspan><tspan x="876.2">.</tspan><tspan x="881.1">8</tspan><tspan x="890.9" textLength="11.0" lengthAdjust="spacingAndGlyphs">W</tspan></text>
<line class="tick" x1="257.1" y1="124.25" x2="262.5" y2="124.25"/>
<text class="ax" y="130.2"><tspan x="209.0">1</tspan><tspan x="218.8">1</tspan><tspan x="228.5">.</tspan><tspan x="233.5">1</tspan><tspan x="243.6" textLength="9.6" lengthAdjust="spacingAndGlyphs">N</tspan></text>
<line class="tick" x1="257.1" y1="191.65" x2="262.5" y2="191.65"/>
<text class="ax" y="197.7"><tspan x="209.0">1</tspan><tspan x="218.8">0</tspan><tspan x="228.5">.</tspan><tspan x="233.5">8</tspan><tspan x="243.6" textLength="9.6" lengthAdjust="spacingAndGlyphs">N</tspan></text>
<line class="tick" x1="257.1" y1="259.05" x2="262.5" y2="259.05"/>
<text class="ax" y="265.1"><tspan x="209.0">1</tspan><tspan x="218.8">0</tspan><tspan x="228.5">.</tspan><tspan x="233.5">5</tspan><tspan x="243.6" textLength="9.6" lengthAdjust="spacingAndGlyphs">N</tspan></text>
<line class="tick" x1="257.1" y1="326.45" x2="262.5" y2="326.45"/>
<text class="ax" y="332.5"><tspan x="209.0">1</tspan><tspan x="218.8">0</tspan><tspan x="228.5">.</tspan><tspan x="233.5">2</tspan><tspan x="243.6" textLength="9.6" lengthAdjust="spacingAndGlyphs">N</tspan></text>
<line class="tick" x1="257.1" y1="393.85" x2="262.5" y2="393.85"/>
<text class="ax" y="399.9"><tspan x="218.8">9</tspan><tspan x="228.5">.</tspan><tspan x="233.5">9</tspan><tspan x="243.6" textLength="9.6" lengthAdjust="spacingAndGlyphs">N</tspan></text>
<line class="tick" x1="257.1" y1="461.25" x2="262.5" y2="461.25"/>
<text class="ax" y="467.2"><tspan x="218.8">9</tspan><tspan x="228.5">.</tspan><tspan x="233.5">6</tspan><tspan x="243.6" textLength="9.6" lengthAdjust="spacingAndGlyphs">N</tspan></text>
<line class="tick" x1="257.1" y1="528.65" x2="262.5" y2="528.65"/>
<text class="ax" y="534.7"><tspan x="218.8">9</tspan><tspan x="228.5">.</tspan><tspan x="233.5">3</tspan><tspan x="243.6" textLength="9.6" lengthAdjust="spacingAndGlyphs">N</tspan></text>
<line class="tick" x1="257.1" y1="596.05" x2="262.5" y2="596.05"/>
<text class="ax" y="602.1"><tspan x="233.5">9</tspan><tspan x="243.6" textLength="9.6" lengthAdjust="spacingAndGlyphs">N</tspan></text>
<line class="tick" x1="257.1" y1="663.45" x2="262.5" y2="663.45"/>
<text class="ax" y="669.5"><tspan x="218.8">8</tspan><tspan x="228.5">.</tspan><tspan x="233.5">7</tspan><tspan x="243.6" textLength="9.6" lengthAdjust="spacingAndGlyphs">N</tspan></text>
<line class="tick" x1="257.1" y1="730.85" x2="262.5" y2="730.85"/>
<text class="ax" y="736.9"><tspan x="218.8">8</tspan><tspan x="228.5">.</tspan><tspan x="233.5">4</tspan><tspan x="243.6" textLength="9.6" lengthAdjust="spacingAndGlyphs">N</tspan></text>
<line class="tick" x1="257.1" y1="798.25" x2="262.5" y2="798.25"/>
<text class="ax" y="804.2"><tspan x="218.8">8</tspan><tspan x="228.5">.</tspan><tspan x="233.5">1</tspan><tspan x="243.6" textLength="9.6" lengthAdjust="spacingAndGlyphs">N</tspan></text>
<g stroke="#000" stroke-width="1.3" stroke-linejoin="miter">
<polygon fill="#aaaaaa" points="1057.7,132.2 1068.7,89.0 1079.7,132.2"/>
<rect fill="#f5f5f5" x="1057.7" y="132.20" width="22.0" height="42.37"/>
<rect fill="#9933cc" x="1057.7" y="174.57" width="22.0" height="42.37"/>
<rect fill="#ff00ff" x="1057.7" y="216.93" width="22.0" height="42.37"/>
<rect fill="#990000" x="1057.7" y="259.30" width="22.0" height="42.37"/>
<rect fill="#cc3300" x="1057.7" y="301.67" width="22.0" height="42.37"/>
<rect fill="#ff0000" x="1057.7" y="344.03" width="22.0" height="42.37"/>
<rect fill="#ff6600" x="1057.7" y="386.40" width="22.0" height="42.37"/>
<rect fill="#ffcc00" x="1057.7" y="428.77" width="22.0" height="42.37"/>
<rect fill="#ffff00" x="1057.7" y="471.13" width="22.0" height="42.37"/>
<rect fill="#009900" x="1057.7" y="513.50" width="22.0" height="42.37"/>
<rect fill="#00cc00" x="1057.7" y="555.87" width="22.0" height="42.37"/>
<rect fill="#00ff00" x="1057.7" y="598.23" width="22.0" height="42.37"/>
<rect fill="#0000ff" x="1057.7" y="640.60" width="22.0" height="42.37"/>
<rect fill="#3399ff" x="1057.7" y="682.97" width="22.0" height="42.37"/>
<rect fill="#66ffff" x="1057.7" y="725.33" width="22.0" height="42.37"/>
<polygon fill="#ffffff" points="1057.7,767.7 1068.7,810.4 1079.7,767.7"/>
</g>
<text class="cb" x="1085.6" y="140.2">200</text>
<text class="cb" x="1085.6" y="182.6">150</text>
<text class="cb" x="1085.6" y="224.9">120</text>
<text class="cb" x="1085.6" y="267.3">100</text>
<text class="cb" x="1085.6" y="309.7">90</text>
<text class="cb" x="1085.6" y="352.0">75</text>
<text class="cb" x="1085.6" y="394.4">60</text>
<text class="cb" x="1085.6" y="436.8">50</text>
<text class="cb" x="1085.6" y="479.1">40</text>
<text class="cb" x="1085.6" y="521.5">30</text>
<text class="cb" x="1085.6" y="563.9">25</text>
<text class="cb" x="1085.6" y="606.2">20</text>
<text class="cb" x="1085.6" y="648.6">15</text>
<text class="cb" x="1085.6" y="691.0">12.5</text>
<text class="cb" x="1085.6" y="733.3">7</text>
<text class="cb" x="1085.6" y="775.7">3.5</text>
<text class="ft" y="876.5"><tspan x="327.9 337.1 352.5 366.6 375.7 383.6 392.8 408.2 417.3">Instituto</tspan> <tspan x="446.2 467.5 482.7 491.7 506.9 522.1 532.3 547.5 555.2 570.4 585.6 593.4 607.3">Meteorologico</tspan> <tspan x="635.7 654.6 669.8 683.7 691.4 706.6 721.8 737.0">Nacional</tspan> <tspan x="758.9 777.6 792.6 806.3 815.1">Costa</tspan> <tspan x="845.2 863.4 870.6 883.9">Rica</tspan></text>
</svg></body></html>
